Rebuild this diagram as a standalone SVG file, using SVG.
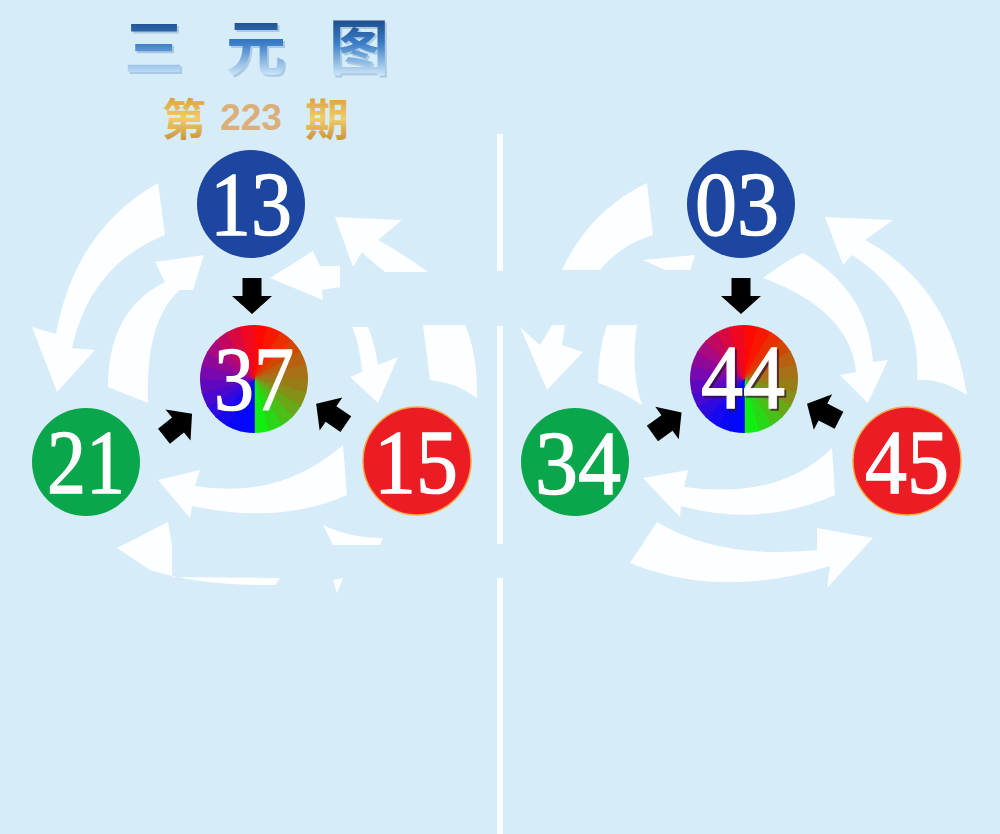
<svg xmlns="http://www.w3.org/2000/svg" xmlns:xlink="http://www.w3.org/1999/xlink" width="1000" height="834" viewBox="0 0 1000 834">
<style>
.bg{fill:#d6ecf9}
.div{fill:#fafdff}
.wa{fill:#fdfeff}
.ba{fill:#000}
.num{font-family:"Liberation Serif","DejaVu Serif",serif;font-size:92px;fill:#fff;stroke:#fff;stroke-width:1.3;text-anchor:middle}
.w{fill:currentColor;stroke:currentColor;stroke-width:1.6}
.cjk{font-family:"Noto Sans CJK SC","Noto Sans CJK JP",sans-serif;font-weight:700;text-anchor:middle}
</style>
<defs>
<linearGradient id="gBlue" gradientUnits="userSpaceOnUse" x1="0" y1="16" x2="0" y2="76">
<stop offset="0" stop-color="#1a4684"/>
<stop offset="0.45" stop-color="#3a7cc6"/>
<stop offset="1" stop-color="#cfe8fa"/>
</linearGradient>
<linearGradient id="gGold" gradientUnits="userSpaceOnUse" x1="0" y1="96" x2="0" y2="141">
<stop offset="0" stop-color="#d8a03a"/>
<stop offset="0.5" stop-color="#f2cc68"/>
<stop offset="1" stop-color="#c8923a"/>
</linearGradient>
<clipPath id="cc"><circle cx="0" cy="0" r="54"/></clipPath>
<path id="blk" d="M-9.5,-18 H9.5 V0 H20 L0,18 L-20,0 H-9.5 Z"/>
<g id="wheel">
<path class="w" color="#ff0800" d="M0 0L0 -60L15.53 -57.96Z"/>
<path class="w" color="#f81800" d="M0 0L15.53 -57.96L30 -51.96Z"/>
<path class="w" color="#e83000" d="M0 0L30 -51.96L42.43 -42.43Z"/>
<path class="w" color="#d04800" d="M0 0L42.43 -42.43L51.96 -30Z"/>
<path class="w" color="#b86010" d="M0 0L51.96 -30L57.96 -15.53Z"/>
<path class="w" color="#a87018" d="M0 0L57.96 -15.53L60 0Z"/>
<path class="w" color="#987c18" d="M0 0L60 0L57.96 15.53Z"/>
<path class="w" color="#849018" d="M0 0L57.96 15.53L51.96 30Z"/>
<path class="w" color="#68a818" d="M0 0L51.96 30L42.43 42.43Z"/>
<path class="w" color="#48c018" d="M0 0L42.43 42.43L30 51.96Z"/>
<path class="w" color="#28d818" d="M0 0L30 51.96L15.53 57.96Z"/>
<path class="w" color="#10f010" d="M0 0L15.53 57.96L0 60Z"/>
<path class="w" color="#0008ff" d="M0 0L0 60L-15.53 57.96Z"/>
<path class="w" color="#0808f8" d="M0 0L-15.53 57.96L-30 51.96Z"/>
<path class="w" color="#1808f0" d="M0 0L-30 51.96L-42.43 42.43Z"/>
<path class="w" color="#3008e0" d="M0 0L-42.43 42.43L-51.96 30Z"/>
<path class="w" color="#4808d0" d="M0 0L-51.96 30L-57.96 15.53Z"/>
<path class="w" color="#6008c0" d="M0 0L-57.96 15.53L-60 0Z"/>
<path class="w" color="#7808b0" d="M0 0L-60 0L-57.96 -15.53Z"/>
<path class="w" color="#900898" d="M0 0L-57.96 -15.53L-51.96 -30Z"/>
<path class="w" color="#a80880" d="M0 0L-51.96 -30L-42.43 -42.43Z"/>
<path class="w" color="#c00860" d="M0 0L-42.43 -42.43L-30 -51.96Z"/>
<path class="w" color="#d80840" d="M0 0L-30 -51.96L-15.53 -57.96Z"/>
<path class="w" color="#f00820" d="M0 0L-15.53 -57.96L0 -60Z"/>
</g>
</defs>

<rect class="bg" x="0" y="0" width="1000" height="834"/>

<g id="divider">
<rect class="div" x="497" y="134" width="6" height="137"/>
<rect class="div" x="497" y="326" width="6" height="218"/>
<rect class="div" x="497" y="578" width="6" height="256"/>
</g>

<g id="title">
<g class="cjk" font-size="60">
<text x="156" y="72" fill="#8fb4d2" opacity="0.6">三</text>
<text x="258" y="72" fill="#8fb4d2" opacity="0.6">元</text>
<text x="361" y="72" fill="#8fb4d2" opacity="0.6">图</text>
<text x="154" y="70" fill="url(#gBlue)">三</text>
<text x="256" y="70" fill="url(#gBlue)">元</text>
<text x="359" y="70" fill="url(#gBlue)">图</text>
</g>
<g class="cjk" font-size="44">
<text x="184" y="136" fill="url(#gGold)">第</text>
<text x="327" y="136" fill="url(#gGold)">期</text>
</g>
<text x="251" y="130" font-family="'Liberation Sans','DejaVu Sans',sans-serif" font-weight="700" font-size="37" fill="#dcae78" text-anchor="middle">223</text>
</g>

<g id="flow-arrows">
<!-- left panel -->
<path class="wa" d="M158 183 Q75 230 56 334 L32 327 L57 392 L95 350 L72 348 Q90 265 165 235 Z"/>
<path class="wa" d="M108 387 Q108 310 165 282 L155 262 L204 255 L193 290 L180 290 Q145 320 148 403 Z"/>
<path class="wa" d="M335 217 L402 220 L378 240 Q405 255 428 272 L385 272 Q372 262 362 252 L353 267 Z"/>
<path class="wa" d="M270 278 L313 251 L320 266 L340 266 L340 287 L322 290 L323 300 Z"/>
<path class="wa" d="M352 327 L368 327 Q375 345 378 365 L398 357 L378 403 L350 377 L362 372 Q360 345 352 327 Z"/>
<path class="wa" d="M423 325 L465 325 Q478 355 477 398 Q455 382 430 380 Z"/>
<path class="wa" d="M158 480 L200 470 L195 486 Q280 500 343 445 L347 495 Q280 525 192 506 L190 518 Z"/>
<path class="wa" d="M117 548 L168 522 L172 545 L172 577 L280 578 L275 585 Q200 586 150 570 Z"/>
<path class="wa" d="M323 525 Q350 538 383 538 L380 545 L333 545 Z"/>
<path class="wa" d="M333 580 L343 578 L337 593 Z"/>
<!-- right panel -->
<path class="wa" d="M647 183 Q590 210 562 270 L600 270 Q620 245 653 235 Z"/>
<path class="wa" d="M643 260 L695 255 L690 270 L665 270 Z"/>
<path class="wa" d="M520 327 L540 345 L552 325 L565 325 L562 345 L583 352 L547 390 Z"/>
<path class="wa" d="M607 325 L637 325 Q630 370 642 405 Q620 390 598 383 Q598 350 607 325 Z"/>
<path class="wa" d="M825 217 L893 220 L865 240 Q950 285 967 395 Q940 378 917 380 Q922 300 852 255 L843 265 Z"/>
<path class="wa" d="M763 278 Q790 258 803 253 Q868 290 873 362 L888 360 L868 403 L840 375 L856 372 Q850 310 763 278 Z"/>
<path class="wa" d="M643 478 L688 470 L684 487 Q780 500 832 448 L835 495 Q760 528 681 506 L680 517 Z"/>
<path class="wa" d="M657 522 Q720 560 817 550 L817 528 L873 538 L827 588 L830 566 Q720 600 630 563 Z"/>
</g>

<g id="connectors">
<use href="#blk" class="ba" transform="translate(252,296)"/>
<use href="#blk" class="ba" transform="translate(178,425) rotate(-128.7)"/>
<use href="#blk" class="ba" transform="translate(331,414) rotate(124.5)"/>
<use href="#blk" class="ba" transform="translate(741,296)"/>
<use href="#blk" class="ba" transform="translate(667,423) rotate(-125.9)"/>
<use href="#blk" class="ba" transform="translate(823,412) rotate(117.3)"/>
</g>

<g id="node-13">
<circle cx="251" cy="204" r="54" fill="#1c46a0"/>
<text class="num" x="251" y="235" textLength="82" lengthAdjust="spacingAndGlyphs">13</text>
</g>
<g id="node-37">
<g transform="translate(254,379)"><g clip-path="url(#cc)"><use href="#wheel"/></g></g>
<text class="num" x="254" y="410" textLength="80" lengthAdjust="spacingAndGlyphs">37</text>
</g>
<g id="node-21">
<circle cx="86" cy="462" r="54" fill="#0aa64b"/>
<text class="num" x="86" y="493" textLength="78" lengthAdjust="spacingAndGlyphs">21</text>
</g>
<g id="node-15">
<circle cx="417" cy="461" r="54" fill="#ec1c24" stroke="#f7a640" stroke-width="1.5"/>
<text class="num" x="416" y="493" textLength="84" lengthAdjust="spacingAndGlyphs">15</text>
</g>

<g id="node-03">
<circle cx="741" cy="204" r="54" fill="#1c46a0"/>
<text class="num" x="737" y="235" textLength="84" lengthAdjust="spacingAndGlyphs">03</text>
</g>
<g id="node-44">
<g transform="translate(744,379)"><g clip-path="url(#cc)"><use href="#wheel"/></g></g>
<text class="num" x="745" y="410" textLength="84" lengthAdjust="spacingAndGlyphs" style="fill:#301030;stroke:#301030" opacity="0.7">44</text>
<text class="num" x="743" y="408" textLength="84" lengthAdjust="spacingAndGlyphs">44</text>
</g>
<g id="node-34">
<circle cx="575" cy="462" r="54" fill="#0aa64b"/>
<text class="num" x="578" y="494" textLength="86" lengthAdjust="spacingAndGlyphs">34</text>
</g>
<g id="node-45">
<circle cx="907" cy="461" r="54" fill="#ec1c24" stroke="#f7a640" stroke-width="1.5"/>
<text class="num" x="907" y="493" textLength="84" lengthAdjust="spacingAndGlyphs">45</text>
</g>
</svg>
